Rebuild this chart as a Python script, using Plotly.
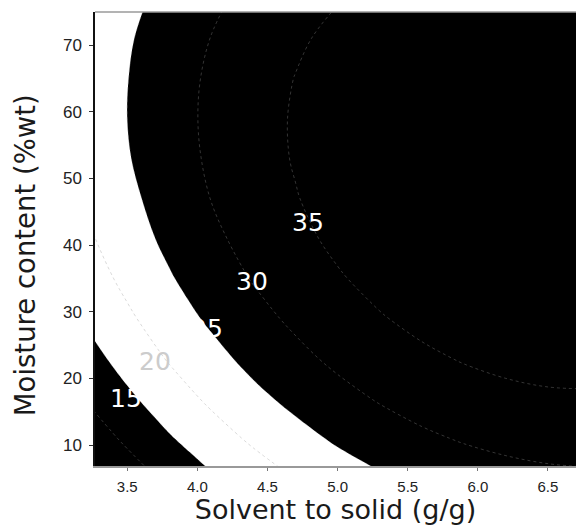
import plotly.graph_objects as go

# Response surface grid: solvent-to-solid ratio (g/g) x moisture content (%wt)
solvent_ratio = [3.2, 3.5, 3.8, 4.1, 4.4, 4.7, 5.0, 5.3, 5.6, 5.9, 6.2, 6.5, 6.8]
moisture = [5, 11, 17, 23, 29, 35, 41, 47, 53, 59, 65, 71, 77]
response = [
    [3.3, 7.4, 11.1, 14.4, 17.5, 20.1, 22.5, 24.4, 26.1, 27.4, 28.3, 28.9, 29.2],
    [7.0, 10.9, 14.6, 17.9, 20.8, 23.4, 25.7, 27.6, 29.2, 30.4, 31.3, 31.9, 32.1],
    [10.2, 14.1, 17.7, 20.9, 23.8, 26.3, 28.5, 30.4, 31.9, 33.1, 33.9, 34.4, 34.5],
    [13.0, 16.9, 20.4, 23.5, 26.4, 28.8, 31.0, 32.8, 34.2, 35.3, 36.1, 36.5, 36.6],
    [15.5, 19.2, 22.7, 25.8, 28.5, 30.9, 33.0, 34.7, 36.1, 37.1, 37.8, 38.2, 38.2],
    [17.5, 21.2, 24.6, 27.6, 30.3, 32.6, 34.6, 36.3, 37.6, 38.6, 39.2, 39.5, 39.4],
    [19.1, 22.8, 26.1, 29.0, 31.7, 33.9, 35.9, 37.5, 38.7, 39.6, 40.2, 40.4, 40.3],
    [20.3, 23.9, 27.1, 30.1, 32.6, 34.8, 36.7, 38.2, 39.4, 40.2, 40.7, 40.9, 40.7],
    [21.1, 24.7, 27.8, 30.7, 33.2, 35.3, 37.1, 38.6, 39.7, 40.5, 40.9, 41.0, 40.7],
    [21.5, 25.0, 28.1, 30.9, 33.3, 35.4, 37.1, 38.5, 39.6, 40.3, 40.7, 40.7, 40.4],
    [21.6, 24.9, 28.0, 30.7, 33.1, 35.1, 36.7, 38.1, 39.1, 39.7, 40.0, 40.0, 39.6],
    [21.2, 24.5, 27.5, 30.1, 32.4, 34.4, 36.0, 37.2, 38.1, 38.7, 39.0, 38.9, 38.4],
    [20.4, 23.6, 26.5, 29.1, 31.3, 33.2, 34.8, 36.0, 36.8, 37.3, 37.5, 37.3, 36.8],
]

# Contour levels and where their labels sit (data coordinates)
label_levels = [15, 20, 25, 30, 35]
label_x = [3.49, 3.70, 4.07, 4.39, 4.79]
label_y = [17.0, 22.5, 27.5, 34.6, 43.4]
label_colors = ["white", "#cccccc", "white", "white", "white"]

# Tick values
x_ticks = [3.5, 4.0, 4.5, 5.0, 5.5, 6.0, 6.5]
y_ticks = [10, 20, 30, 40, 50, 60, 70]

fig = go.Figure()

# Filled bands: below 15 black, 15-25 white, above 25 black
fig.add_trace(go.Contour(
    x=solvent_ratio, y=moisture, z=response,
    contours=dict(start=15, end=35, size=5, coloring="fill"),
    colorscale=[[0, "black"], [0.2, "black"], [0.2, "white"],
                [0.6, "white"], [0.6, "black"], [1, "black"]],
    line=dict(width=0, smoothing=1.0),
    showscale=False, hoverinfo="skip",
))

# Faint dotted iso-lines
fig.add_trace(go.Contour(
    x=solvent_ratio, y=moisture, z=response,
    contours=dict(start=10, end=35, size=5, coloring="none"),
    line=dict(width=1, color="rgba(150,150,150,0.35)", dash="dot", smoothing=1.0),
    showscale=False, hoverinfo="skip",
))

for lv, lx, ly, lc in zip(label_levels, label_x, label_y, label_colors):
    fig.add_annotation(
        x=lx, y=ly, text=str(lv), showarrow=False,
        font=dict(family="DejaVu Sans", size=25, color=lc),
        xanchor="center", yanchor="middle",
    )

# Vertical axis title
fig.add_annotation(
    xref="paper", yref="paper", x=-0.145, y=0.465,
    text="Moisture content (%wt)", textangle=-90, showarrow=False,
    xanchor="center", yanchor="middle",
    font=dict(family="DejaVu Sans", size=27.5, color="#1a1a1a"),
)

# Thin grey frame line along the top
fig.add_shape(type="line", xref="paper", yref="paper", x0=0, x1=1, y0=1, y1=1,
              line=dict(color="#9a9a9a", width=1.5))

fig.update_layout(
    width=576, height=525,
    margin=dict(l=95, r=0, t=12, b=59),
    plot_bgcolor="white", paper_bgcolor="white",
    showlegend=False,
    xaxis=dict(
        range=[3.27, 6.7], tickvals=x_ticks, tickformat=".1f",
        showgrid=False, zeroline=False,
        ticks="outside", ticklen=3, tickcolor="#777", ticklabelstandoff=3,
        showline=True, linecolor="#999999", linewidth=2,
        tickfont=dict(family="Liberation Sans", size=15, color="#222"),
        title=dict(text="Solvent to solid (g/g)", standoff=3,
                   font=dict(family="DejaVu Sans", size=27, color="#1a1a1a")),
    ),
    yaxis=dict(
        range=[6.85, 75], tickvals=y_ticks,
        showgrid=False, zeroline=False,
        ticks="outside", ticklen=4, tickcolor="#333", ticklabelstandoff=4,
        showline=True, linecolor="#111", linewidth=1.5,
        tickfont=dict(family="Liberation Sans", size=17, color="#222"),
    ),
)

fig.write_html("out.html")
